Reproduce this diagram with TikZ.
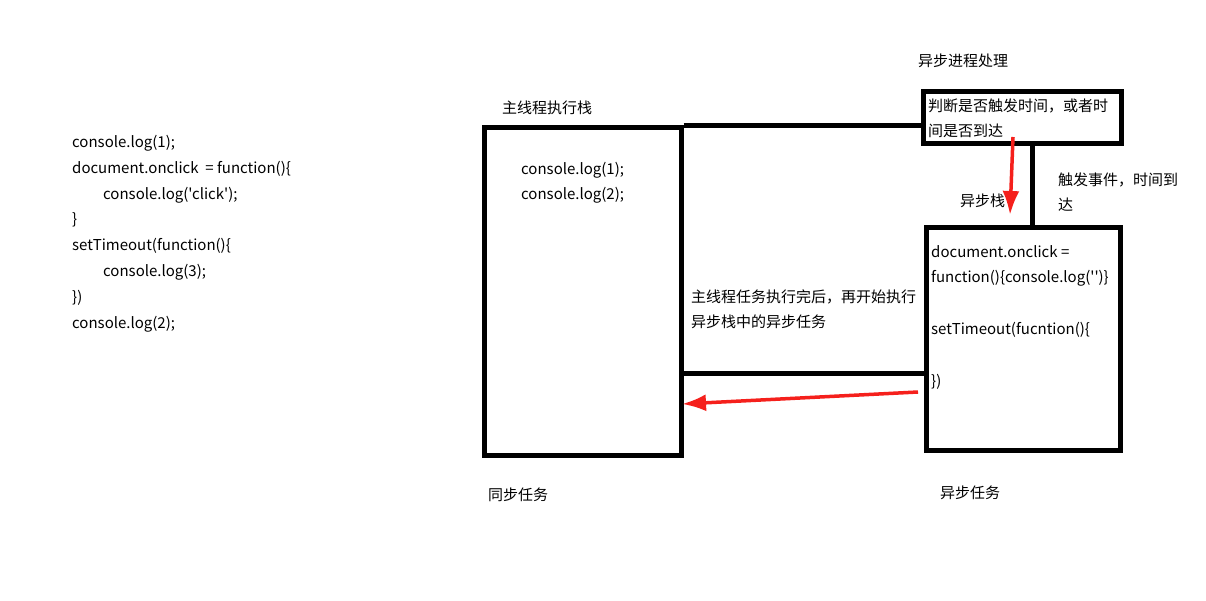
\documentclass[tikz,border=0pt]{standalone}
\usepackage{fontspec}
\newfontfamily\yh{Noto Sans CJK SC}
\usetikzlibrary{arrows.meta}
\definecolor{arrowred}{RGB}{245,32,28}

\begin{document}
\begin{tikzpicture}[x=1pt,y=-1pt,
  every node/.style={font=\yh\fontsize{15}{25}\selectfont, inner sep=0pt, anchor=west},
  stackbox/.style={draw, line width=5pt, anchor=center},
  frameline/.style={line width=5pt},
  redarrow/.style={arrowred, line width=3.5pt, -{Latex[length=24pt,width=17pt]}}]
\useasboundingbox (0,0) rectangle (1206,601);
% left: the source code
\foreach \y/\x/\t in
  { 143/72/{console.log(1);},
    169/72/{document.onclick~ = function()\{},
    195/103/{console.log('click');},
    220/72/{\}},
    246/72/{setTimeout(function()\{},
    272/103/{console.log(3);},
    298/72/{\})},
    324/72/{console.log(2);}
  }
  \node (code\y) at (\x,\y) {\t};
% stacks
\node[stackbox, minimum width=197pt, minimum height=327pt] (mainstack) at (582.5,291.5) {};
\node[stackbox, minimum width=198pt, minimum height=52pt] (judge) at (1022,118) {};
\node[stackbox, minimum width=194pt, minimum height=222pt] (async) at (1023,339) {};
\draw[frameline] (mainstack.north east) -- (mainstack.north east -| judge.west);
\draw[frameline] (mainstack.east |- 0,373) -- (async.west |- 0,373);
\draw[frameline] (judge.south -| 1032,0) -- (async.north -| 1032,0);
% labels
\node (mainlabel) at (502,108) {主线程执行栈};
\node (asynclabel) at (918,61) {异步进程处理};
\node (synclabel) at (488,495) {同步任务};
\node (tasklabel) at (940,493) {异步任务};
\node (asyncstack) at (960,201) {异步栈};
\node (main1) at (521,170) {console.log(1);};
\node (main2) at (521,195) {console.log(2);};
\node[align=left] (judgetext) at (928,118) {判断是否触发时间，或者时\\间是否到达};
\node[align=left] (trigger) at (1058,192) {触发事件，时间到\\达};
\node[align=left] (midtext) at (691,309.5) {主线程任务执行完后，再开始执行\\异步栈中的异步任务};
\foreach \y/\t in
  { 252/{document.onclick =},
    278/{function()\{console.log('')\}},
    330/{setTimeout(fucntion()\{},
    382/{\})}
  }
  \node (async\y) at (931,\y) {\t};
% red arrows
\coordinate (downstart) at (1013,137);
\coordinate (downend) at (1010,215);
\coordinate (backstart) at (918,392);
\coordinate (backend) at (682,404);
\draw[redarrow] (downstart) -- (downend);
\draw[redarrow] (backstart) -- (backend);
\end{tikzpicture}
\end{document}
